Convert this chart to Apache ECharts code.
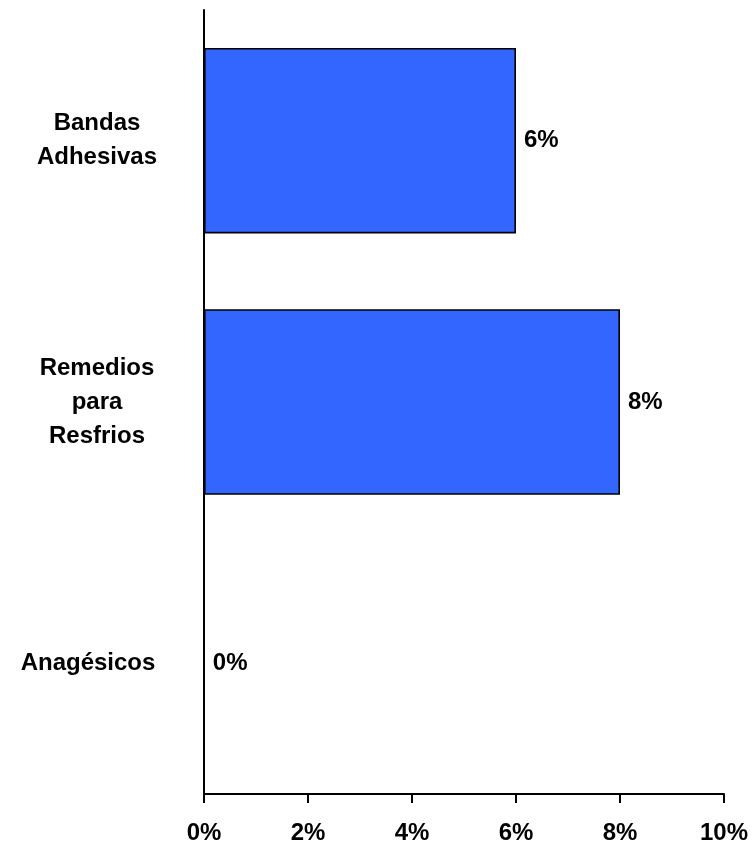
<!DOCTYPE html>
<html><head><meta charset="utf-8">
<script src="https://cdn.jsdelivr.net/npm/echarts@6/dist/echarts.min.js"></script>
<style>html,body{margin:0;padding:0;background:#fff}#c{width:754px;height:845px}</style>
</head><body><div id="c"></div>
<script>
const categories = ['Anagésicos', 'Remedios\npara\nResfrios', 'Bandas\nAdhesivas'];
const values = [0, 8, 6];
const xTicks = [0, 2, 4, 6, 8, 10];

const FONT = 'Liberation Sans, Arial, sans-serif';
const chart = echarts.init(document.getElementById('c'));
chart.setOption({
  animation: false,
  grid: {left: 204, right: 30, top: 10, bottom: 51, containLabel: false},
  xAxis: {
    type: 'value', min: 0, max: 10, interval: 2,
    axisLine: {show: true, lineStyle: {color: '#000', width: 2}},
    axisTick: {show: true, length: 9, lineStyle: {color: '#000', width: 2}},
    splitLine: {show: false},
    axisLabel: {margin: 27, color: '#000', fontFamily: FONT, fontWeight: 'bold', fontSize: 24,
      formatter: v => xTicks.includes(v) ? v + '%' : ''}
  },
  yAxis: {
    type: 'category', data: categories,
    axisLine: {show: true, lineStyle: {color: '#000', width: 2}},
    axisTick: {show: false},
    axisLabel: {
      margin: 107, align: 'center', color: '#000', fontFamily: FONT, fontWeight: 'bold', fontSize: 24, lineHeight: 34,
      formatter: v => v.indexOf('\n') < 0 ? '{s|' + v + '}' : v,
      rich: {s: {fontFamily: FONT, fontWeight: 'bold', fontSize: 24, color: '#000', padding: [0, 18, 0, 0]}}
    }
  },
  series: [{
    type: 'bar', data: values, barCategoryGap: '29%',
    itemStyle: {color: '#3366FF', borderColor: '#000', borderWidth: 1.6},
    label: {show: true, position: 'right', distance: 8, color: '#000', fontFamily: FONT, fontWeight: 'bold', fontSize: 24, formatter: p => p.value + '%'}
  }]
});
</script></body></html>
